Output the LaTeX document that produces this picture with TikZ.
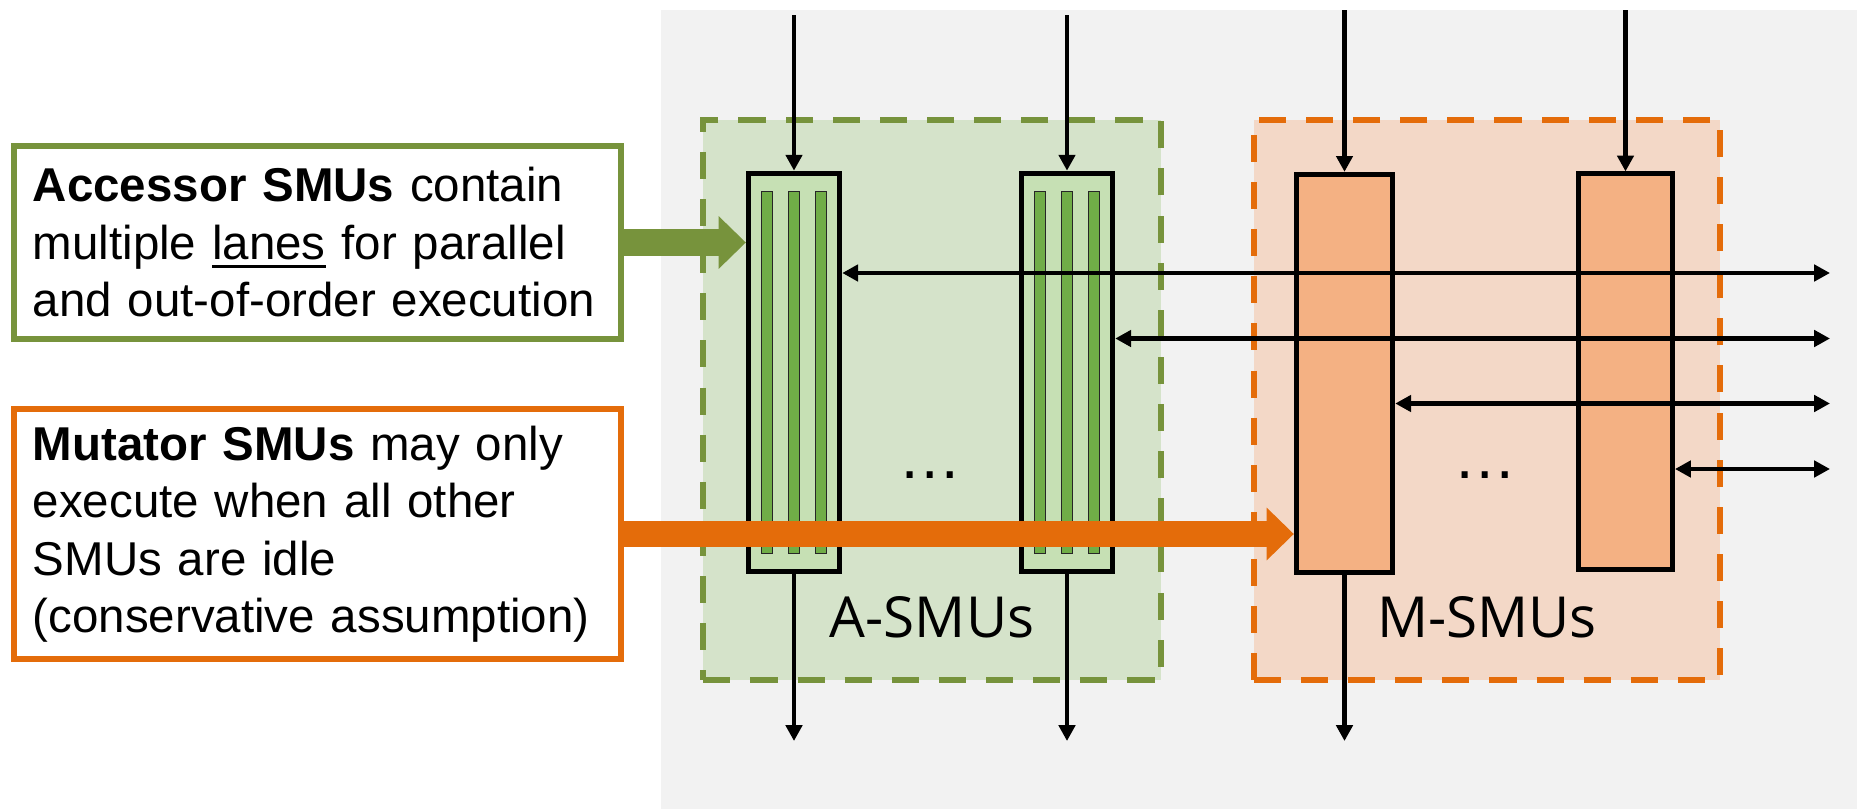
\documentclass[tikz,border=0pt]{standalone}
\usepackage{fontspec}
\setmainfont{Liberation Sans}
\newfontfamily\labfont{Open Sans}
\usetikzlibrary{arrows.meta}
\definecolor{olive}{HTML}{77933C}
\definecolor{orng}{HTML}{E46C0A}
\definecolor{bggray}{HTML}{F2F2F2}
\definecolor{gfill}{HTML}{D5E3CA}
\definecolor{asmufill}{HTML}{C6E0B4}
\definecolor{lanefill}{HTML}{70AD47}
\definecolor{ofill}{HTML}{F3D8C7}
\definecolor{msmufill}{HTML}{F4B183}
\newcommand{\lanesul}[1]{\setbox0=\hbox{#1}\leavevmode\rlap{\vrule width\wd0 height -1.5pt depth 2.5pt}\box0\relax}
\begin{document}
\begin{tikzpicture}[x=0.01cm,y=-0.01cm,
  txtbox/.style={line width=1.7pt, fill=white, minimum width=6.07cm, text width=5.69cm, inner xsep=0.19cm, inner ysep=0pt, align=left, font=\fontsize{13.5pt}{16.35pt}\selectfont},
  group/.style={line width=1.7pt, dash pattern=on 7.7pt off 5.7pt, inner sep=0pt, minimum height=5.6cm},
  smu/.style={draw=black, line width=1.4pt, inner sep=0pt},
  lane/.style={draw=black!85, fill=lanefill, line width=0.3pt, minimum width=0.115cm, minimum height=3.61cm, inner sep=0pt},
  conn/.style={line width=1.4pt, -{Triangle[length=4.5pt,width=4.6pt]}},
  dconn/.style={line width=1.4pt, {Triangle[length=4.5pt,width=4.6pt]}-{Triangle[length=4.5pt,width=4.6pt]}},
  fat/.style={line width=7.6pt, -{Triangle[length=7.7pt,width=15pt,line width=0pt]}},
  grouplabel/.style={font=\labfont\fontsize{16.1pt}{19pt}\selectfont, anchor=base, inner sep=0pt},
  ellip/.style={font=\fontsize{18pt}{20pt}\selectfont, anchor=base, inner sep=0pt}
]
\useasboundingbox (0,0) rectangle (1857,809);
\fill[bggray] (661,10) rectangle (1857,809);

% group containers
\node[group, draw=olive, fill=gfill, minimum width=4.575cm] (agroup) at (932.25,400) {};
\node[group, draw=orng, fill=ofill, minimum width=4.66cm] (mgroup) at (1487,400) {};

% SMU boxes
\node[smu, fill=asmufill, minimum width=0.915cm, minimum height=3.985cm] (a1) at (794,372.5) {};
\node[smu, fill=asmufill, minimum width=0.915cm, minimum height=3.985cm] (a2) at (1067,372.5) {};
\node[smu, fill=msmufill, minimum width=0.965cm, minimum height=3.98cm] (m1) at (1344.5,373.4) {};
\node[smu, fill=msmufill, minimum width=0.94cm, minimum height=3.95cm] (m2) at (1625.5,371.5) {};

% lanes
\foreach \b in {a1,a2}{
  \foreach \i/\dx in {1/-27,2/0,3/27}{
    \node[lane] (\b l\i) at ([xshift=\dx*0.01cm]\b.center) {};
  }
}

% text boxes
\node[txtbox, draw=olive, minimum height=1.93cm] (gtext) at (317.5,242.5)
  {\textbf{Accessor SMUs} contain\\ multiple \lanesul{lanes} for parallel\\ and out-of-order execution};
\node[txtbox, draw=orng, minimum height=2.5cm] (otext) at (317.5,534)
  {\textbf{Mutator SMUs} may only\\ execute when all other\\ SMUs are idle\\ (conservative assumption)};

% fat arrows
\draw[fat, olive] (gtext.east) -- (gtext.east -| a1.west);
\draw[fat, orng] (otext.east) -- (otext.east -| m1.west);

% connectors
\coordinate (a1in) at (794,15);
\coordinate (a2in) at (1067,15);
\coordinate (m1in) at (1344.5,10);
\coordinate (m2in) at (1625.5,10);
\coordinate (a1out) at (794,741);
\coordinate (a2out) at (1067,741);
\coordinate (m1out) at (1344.5,741);
\coordinate (r1) at (1830,273);
\coordinate (r2) at (1830,338.5);
\coordinate (r3) at (1830,403.5);
\coordinate (r4) at (1830,469);

\draw[conn] (a1in) -- (a1.north);
\draw[conn] (a2in) -- (a2.north);
\draw[conn] (m1in) -- (m1.north);
\draw[conn] (m2in) -- (m2.north);
\draw[conn] (a1.south) -- (a1out);
\draw[conn] (a2.south) -- (a2out);
\draw[conn] (m1.south) -- (m1out);
\draw[dconn] (a1.east |- r1) -- (r1);
\draw[dconn] (a2.east |- r2) -- (r2);
\draw[dconn] (m1.east |- r3) -- (r3);
\draw[dconn] (m2.east |- r4) -- (r4);

% ellipses and labels
\node[ellip] (dotsA) at (930,478) {…};
\node[ellip] (dotsM) at (1485.5,478) {…};
\node[grouplabel] (alab) at (932,637) {A-SMUs};
\node[grouplabel] (mlab) at (1487,637) {M-SMUs};
\end{tikzpicture}
\end{document}
